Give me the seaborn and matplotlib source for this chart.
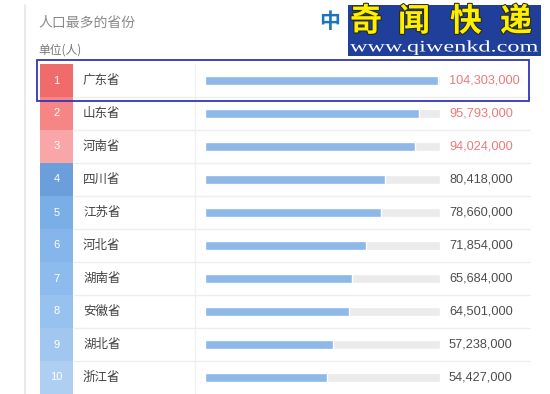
import matplotlib
matplotlib.use('Agg')
import matplotlib.pyplot as plt
import seaborn as sns
import pandas as pd
import numpy as np
from matplotlib.patches import Rectangle, PathPatch
from matplotlib.lines import Line2D
from matplotlib.textpath import TextPath
from matplotlib.font_manager import FontProperties
from matplotlib.transforms import Affine2D, IdentityTransform
import matplotlib.patheffects as pe

# ---- data ----
ranks = [1, 2, 3, 4, 5, 6, 7, 8, 9, 10]
provinces = ['广东省', '山东省', '河南省', '四川省', '江苏省',
             '河北省', '湖南省', '安徽省', '湖北省', '浙江省']
population = [104303000, 95793000, 94024000, 80418000, 78660000,
              71854000, 65684000, 64501000, 57238000, 54427000]
title = '人口最多的省份'
unit_label = '单位(人)'
logo_chars = ['奇', '闻', '快', '递']
logo_url = 'www.qiwenkd.com'
logo_prefix = '中'

# ---- styles ----
rank_colors = ['#f06b6b', '#f68686', '#f9a6a8', '#6a9fdb', '#7aaee6',
               '#85b5ea', '#8ebbed', '#97c1ef', '#a1c7f0', '#afcff2']
value_colors = ['#f07878'] * 3 + ['#4d4d4d'] * 7

sns.set_theme(style='white')
plt.rcParams['font.family'] = ['Noto Sans CJK SC', 'DejaVu Sans']

W, H = 550, 394
fig = plt.figure(figsize=(5.5, 3.94), dpi=100)
fig.patch.set_facecolor('white')


def fx(x):
    return x / W


def fy(y):
    return 1 - y / H


row_top = 64
row_h = 33
n = len(provinces)

# bars axes
XMAX = 105.2e6
ax = fig.add_axes([fx(205), fy(row_top + n * row_h), 235 / W, n * row_h / H])
df = pd.DataFrame({'省份': provinces, '人口': population})
ax.barh(np.arange(n), XMAX, height=0.3, color='#ebebeb', zorder=0.5)
sns.barplot(data=df, x='人口', y='省份', orient='h', color='#8db8e8',
            saturation=1, width=0.3, ax=ax, zorder=2)
ax.set_xlim(0, XMAX)
ax.set_ylim(n - 0.5, -0.5)
ax.axis('off')

# page border line
fig.add_artist(Line2D([fx(25), fx(25)], [fy(5), fy(394)], color='#e6e6e6',
                      lw=1.2, transform=fig.transFigure))
# vertical divider
fig.add_artist(Line2D([fx(195), fx(195)], [fy(row_top), fy(394)], color='#f0f0f0',
                      lw=1, transform=fig.transFigure))

for i in range(n):
    top = row_top + i * row_h
    cy = top + row_h / 2
    if i > 0:
        fig.add_artist(Line2D([fx(74), fx(530)], [fy(top), fy(top)], color='#eeeeee',
                              lw=1, transform=fig.transFigure))
    fig.add_artist(Rectangle((fx(40), fy(top + row_h)), 33 / W, row_h / H,
                             facecolor=rank_colors[i], edgecolor='none',
                             transform=fig.transFigure))
    fig.text(fx(56.5), fy(cy), str(ranks[i]), color='white', fontsize=8,
             family=['Liberation Sans'], ha='center', va='center')
    fig.text(fx(83), fy(cy), provinces[i], color='#444444', fontsize=9,
             ha='left', va='center')
    fig.text(fx(449), fy(cy), f'{population[i]:,}', color=value_colors[i],
             fontsize=9.2, family=['Liberation Sans'], ha='left', va='center')

# highlight rectangle
fig.add_artist(Rectangle((fx(37), fy(101)), (529 - 37) / W, (101 - 60) / H,
                         facecolor='none', edgecolor='#3434b8', lw=1.3,
                         transform=fig.transFigure, zorder=5))

# title
fig.text(fx(38), fy(23), title, color='#8a8a8a', fontsize=10, ha='left', va='center')
fig.text(fx(38), fy(50), unit_label, color='#777777', fontsize=8.5, ha='left', va='center')

# logo
fig.text(fx(330), fy(22), logo_prefix, color='#1a75bb', fontsize=15,
         fontweight='bold', ha='center', va='center')
fig.add_artist(Rectangle((fx(348), fy(56)), (541 - 348) / W, 51 / H,
                         facecolor='#1f3f9a', edgecolor='none',
                         transform=fig.transFigure, zorder=3))
for ch, cx in zip(logo_chars, [366, 414, 466, 516]):
    fig.text(fx(cx), fy(22), ch, color='#fff000', fontsize=23, fontweight='bold',
             ha='center', va='center', zorder=4,
             path_effects=[pe.withStroke(linewidth=1.5, foreground='#2a2a10')])

# URL stretched horizontally to fill the logo width
tp = TextPath((0, 0), logo_url, size=1, prop=FontProperties(family='Liberation Serif'))
ext = tp.get_extents()
target_w = 188.0
sx = target_w / ext.width
sy = 11.0 / 0.683
x0 = 350 - ext.x0 * sx
y0 = H - 51.5  # baseline in display pixels (from bottom)
patch = PathPatch(tp, facecolor='white', edgecolor='none', zorder=4)
patch.set_transform(Affine2D().scale(sx, sy).translate(x0, y0) + IdentityTransform())
fig.add_artist(patch)

fig.savefig('out.png', dpi=100)
